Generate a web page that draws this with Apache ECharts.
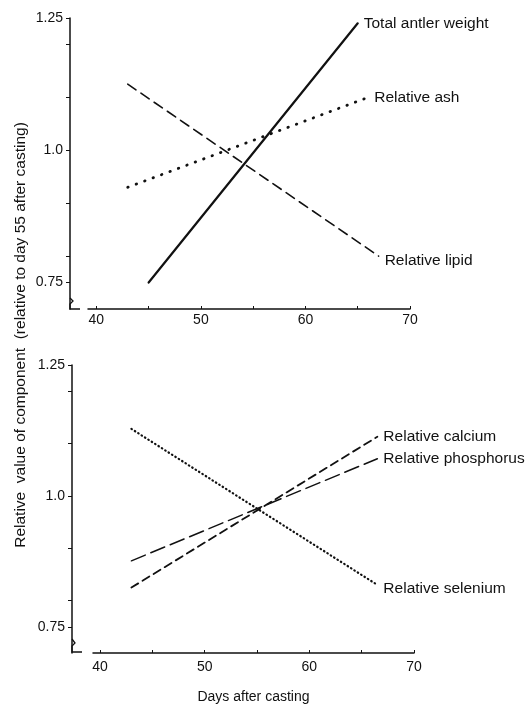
<!DOCTYPE html>
<html>
<head>
<meta charset="utf-8">
<script src="https://cdn.jsdelivr.net/npm/echarts@6/dist/echarts.min.js"></script>
<style>
  html, body { margin: 0; padding: 0; background: #fff; }
  #main { width: 529px; height: 707px; }
</style>
</head>
<body>
<div id="main"></div>
<script>
// top panel
var antlerDays = [45, 65];
var antlerWeight = [0.75, 1.24];
var ashDays = [43, 66];
var ashValue = [0.93, 1.10];
var lipidDays = [43, 67];
var lipidValue = [1.125, 0.80];

// bottom panel
var calciumDays = [43, 66.5];
var calciumValue = [0.825, 1.113];
var phosDays = [43, 66.5];
var phosValue = [0.876, 1.071];
var seleniumDays = [43, 66.5];
var seleniumValue = [1.128, 0.83];

var xTicks = [40, 45, 50, 55, 60, 65, 70];
var xLabels = [40, 50, 60, 70];
var yTicks = [0.75, 0.8, 0.9, 1.0, 1.1, 1.2, 1.25];
var yLabels = [0.75, 1.0, 1.25];

function pairs(xs, ys) {
    return xs.map(function (x, i) { return [x, ys[i]]; });
}

var ink = '#111';
var font = 'Liberation Sans';

function xAxisFor(idx, min, margin, extra) {
    var ax = {
        type: 'value',
        gridIndex: idx,
        min: min,
        max: 70,
        splitLine: { show: false },
        axisLine: { onZero: false, lineStyle: { color: ink, width: 1.5 } },
        axisTick: { customValues: xTicks, inside: true, length: 3, lineStyle: { color: ink } },
        axisLabel: { customValues: xLabels, color: ink, fontSize: 14, fontFamily: font, margin: margin }
    };
    return Object.assign(ax, extra || {});
}

function yAxisFor(idx, offset) {
    return {
        type: 'value',
        gridIndex: idx,
        min: 0.7,
        max: 1.25,
        offset: offset,
        splitLine: { show: false },
        axisLine: { onZero: false, lineStyle: { color: ink, width: 1.5 } },
        axisTick: { customValues: yTicks, length: 4, lineStyle: { color: ink } },
        axisLabel: {
            customValues: yLabels, color: ink, fontSize: 14, fontFamily: font, margin: 7,
            formatter: function (v) { return v === 1 ? '1.0' : String(v); }
        }
    };
}

function lineSeries(name, idx, data, width, dash, labelOffset) {
    return {
        name: name,
        type: 'line',
        xAxisIndex: idx,
        yAxisIndex: idx,
        data: data,
        showSymbol: false,
        silent: true,
        lineStyle: { color: ink, width: width, type: dash, cap: 'round' },
        endLabel: {
            show: true,
            formatter: '{a}',
            color: ink,
            fontSize: 15.5,
            fontFamily: font,
            distance: 6,
            offset: labelOffset || [0, 0]
        }
    };
}

var chart = echarts.init(document.getElementById('main'));
var option = {
    animation: false,
    backgroundColor: '#fff',
    grid: [
        { left: 88, top: 18, width: 322, height: 291 },
        { left: 93, top: 365, width: 321, height: 288 }
    ],
    xAxis: [
        xAxisFor(0, 39.2, 4),
        xAxisFor(1, 39.33, 7, {
            name: 'Days after casting',
            nameLocation: 'middle',
            nameGap: 37,
            nameTextStyle: { color: ink, fontSize: 14, fontFamily: font }
        })
    ],
    yAxis: [yAxisFor(0, 18), yAxisFor(1, 21)],
    series: [
        lineSeries('Total antler weight', 0, pairs(antlerDays, antlerWeight), 2.2, 'solid'),
        lineSeries('Relative ash', 0, pairs(ashDays, ashValue), 2.8, [0.5, 8.5]),
        lineSeries('Relative lipid', 0, pairs(lipidDays, lipidValue), 1.6, [10, 6], [0, 5]),
        lineSeries('Relative calcium', 1, pairs(calciumDays, calciumValue), 1.8, [8, 5]),
        lineSeries('Relative phosphorus', 1, pairs(phosDays, phosValue), 1.5, [15, 6]),
        lineSeries('Relative selenium', 1, pairs(seleniumDays, seleniumValue), 2.2, [0.5, 3.5], [0, 4])
    ],
    graphic: [
        {
            type: 'text',
            x: 21,
            y: 335,
            rotation: Math.PI / 2,
            style: {
                text: 'Relative  value of component  (relative to day 55 after casting)',
                fill: ink,
                font: '15.5px "Liberation Sans"',
                align: 'center',
                verticalAlign: 'middle'
            }
        },
        // axis break feet
        { type: 'polyline', shape: { points: [[70, 298], [73, 301], [70, 304], [70, 309], [80, 309]] }, style: { stroke: ink, lineWidth: 1.3, fill: null } },
        { type: 'polyline', shape: { points: [[72, 639], [75, 643], [72, 646], [72, 652], [82, 652]] }, style: { stroke: ink, lineWidth: 1.3, fill: null } }
    ]
};
chart.setOption(option);
</script>
</body>
</html>
